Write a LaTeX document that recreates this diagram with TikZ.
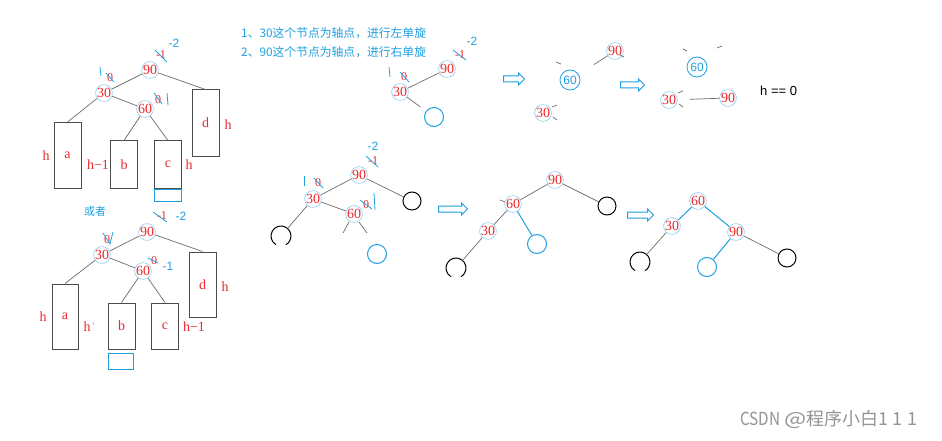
\documentclass[tikz,border=0pt]{standalone}
\usepackage{fontspec}
\setmainfont{Liberation Serif}
\newfontfamily\cjkf{Noto Sans CJK SC}
\newfontfamily\sansf{Liberation Sans}
\usetikzlibrary{shapes.arrows}
\definecolor{cb}{RGB}{30,160,225}
\definecolor{lb}{RGB}{140,205,240}
\definecolor{rd}{RGB}{235,40,45}
\definecolor{eg}{RGB}{110,110,110}
\begin{document}
\begin{tikzpicture}[x=1pt,y=-1pt,
 num/.style={circle,draw=lb,line width=0.6pt,minimum size=16pt,inner sep=0pt,text=rd,font=\fontsize{14}{14}\selectfont},
 bnum/.style={circle,draw=cb,line width=0.8pt,minimum size=20pt,inner sep=0pt,text=cb,font=\sansf\fontsize{12}{12}\selectfont},
 box/.style={draw=black!70,line width=1pt,minimum width=27pt,inner sep=0pt,text=rd,font=\fontsize{14}{14}\selectfont},
 lab/.style={text=rd,font=\fontsize{14}{14}\selectfont,inner sep=0pt},
 ann/.style={text=rd,font=\fontsize{12}{12}\selectfont,inner sep=0pt},
 bann/.style={text=cb,font=\sansf\fontsize{12}{12}\selectfont,inner sep=0pt},
 stroke/.style={draw=cb,line width=0.8pt},
 edge/.style={draw=eg,line width=0.7pt},
 bedge/.style={draw=cb,line width=1pt},
 blk/.style={circle,draw=black,line width=1pt,minimum size=18pt,inner sep=0pt},
 openc/.style={circle,minimum size=20pt,inner sep=0pt,outer sep=0pt},
 bc/.style={circle,draw=cb,line width=1pt,minimum size=19pt,inner sep=0pt},
 barrow/.style={single arrow,draw=cb,line width=1pt,single arrow head extend=3pt,inner sep=2.5pt,minimum width=0pt},
]
\fill[white] (0,0) rectangle (942,441);
\useasboundingbox (0,0) rectangle (942,441);

% ---------- top text ----------
\node[anchor=west,text=cb,font=\cjkf\fontsize{11.8}{11.8}\selectfont,inner sep=0pt] (t1) at (241,33) {1、30这个节点为轴点，进行左单旋};
\node[anchor=west,text=cb,font=\cjkf\fontsize{11.8}{11.8}\selectfont,inner sep=0pt] (t2) at (241,52) {2、90这个节点为轴点，进行右单旋};

% ---------- upper-left tree ----------
\node[num] (a90) at (150,70) {90};
\node[num] (a30) at (104,93) {30};
\node[num] (a60) at (145,109) {60};
\node[box,minimum height=66pt] (aa) at (67.5,155.5) {a};
\node[box,minimum height=47pt] (ab) at (124,164.5) {b};
\node[box,minimum height=47pt] (ac) at (168,164.5) {c};
\node[box,minimum height=66pt] (ad) at (205.5,123) {d};
\node[draw=cb,line width=1pt,minimum width=27pt,minimum height=12pt,inner sep=0pt] (acx) at (168,195) {};
\draw[edge] (a90) -- (a30);
\draw[edge] (a90) -- (ad.north);
\draw[edge] (a30) -- (aa.north);
\draw[edge] (a30) -- (a60);
\draw[edge] (a60) -- (ab.north);
\draw[edge] (a60) -- (ac.north);
\node[lab] (ah1) at (46,156) {h};
\node[lab] (ah2) at (98,165) {h−1};
\node[lab] (ah3) at (189,165) {h};
\node[lab] (ah4) at (228,125) {h};
\node[ann] (an1) at (161,55) {-1};
\draw[stroke] (155,50) -- (167,62);
\node[bann] (an2) at (174,43) {-2};
\node[ann] (an3) at (110,78) {0};
\draw[stroke] (106,73) -- (114,82);
\draw[stroke] (100,67) -- (101,76);
\node[ann] (an4) at (158,100) {0};
\draw[stroke] (154,93) -- (162,104);
\draw[stroke] (167,93) -- (168,105);
\node[text=cb,font=\cjkf\fontsize{11}{11}\selectfont,inner sep=0pt] (huo) at (95,211) {或者};

% ---------- lower-left tree ----------
\node[num] (b90) at (147,232) {90};
\node[num] (b30) at (102,255) {30};
\node[num] (b60) at (143,271) {60};
\node[box,minimum width=26pt,minimum height=65pt] (ba) at (65,316.5) {a};
\node[box,minimum height=46pt] (bb) at (121.5,326) {b};
\node[box,minimum height=46pt] (bcc) at (165,326) {c};
\node[box,minimum height=65pt] (bd) at (202.5,284.5) {d};
\node[draw=cb,line width=1pt,minimum width=25pt,minimum height=16pt,inner sep=0pt] (bbx) at (120.5,361) {};
\draw[edge] (b90) -- (b30);
\draw[edge] (b90) -- (bd.north);
\draw[edge] (b30) -- (ba.north);
\draw[edge] (b30) -- (b60);
\draw[edge] (b60) -- (bb.north);
\draw[edge] (b60) -- (bcc.north);
\node[lab] (bh1) at (43,317) {h};
\node[lab] (bh2) at (87,327) {h};
\draw[stroke,draw=cb!50] (93,322) -- (94,325);
\node[lab] (bh3) at (194,327) {h−1};
\node[lab] (bh4) at (225,287) {h};
\node[ann] (bn1) at (162,216) {-1};
\draw[stroke] (153,212) -- (167,222);
\node[bann] (bn2) at (181,216) {-2};
\node[ann] (bn3) at (107,240) {0};
\draw[stroke] (103,233) -- (110,244) -- (113,232);
\node[ann] (bn4) at (154,261) {0};
\draw[stroke] (148,258) -- (158,263);
\node[bann] (bn5) at (168,266) {-1};

% ---------- top-middle: step 0 ----------
\node[num] (c90) at (447,69) {90};
\node[num] (c30) at (400,92) {30};
\node[bc] (cbl) at (434,117) {};
\draw[edge] (c90) -- (c30);
\draw[edge,shorten >=7pt] (c30) -- (cbl);
\node[ann] (cn1) at (460,55) {-1};
\draw[stroke] (453,50) -- (466,60);
\node[bann] (cn2) at (472,41) {-2};
\node[ann] (cn3) at (404,77) {0};
\draw[stroke] (400,72) -- (409,82);
\draw[stroke] (389,67) -- (390,77);

\node[barrow,minimum height=21pt] (ar1) at (512.5,79) {};

% step 1
\node[num] (d90) at (615,51) {90};
\node[bnum] (d60) at (570,80) {60};
\node[num] (d30) at (543,113) {30};
\draw[edge,shorten >=18pt] (d90) -- (d60);
\draw[edge] (556,62) -- (561,64);
\draw[edge] (620,55) -- (624,57);
\draw[edge] (552,107) -- (557,105);
\draw[edge] (553,117) -- (557,120);

\node[barrow,minimum height=24pt] (ar2) at (631,85) {};

% step 2
\node[bnum] (e60) at (697,67) {60};
\node[num] (e30) at (669,100) {30};
\node[num] (e90) at (728,98) {90};
\draw[edge] (683,49) -- (687,51);
\draw[edge] (717,48) -- (722,46);
\draw[edge] (678,93) -- (683,91);
\draw[edge] (679,104) -- (683,107);
\draw[edge,shorten >=12pt] (e90) -- (e30);
\node[anchor=west,font=\sansf\fontsize{13}{13}\selectfont,inner sep=0pt] (heq) at (760,91) {h == 0};

% ---------- middle row: step 0 ----------
\node[num] (f90) at (359,175) {90};
\node[num] (f30) at (313,199) {30};
\node[num] (f60) at (354,214) {60};
\node[blk] (fr) at (412,201) {};
\node[openc] (fl) at (281,236) {};
\draw[black,line width=1pt] (fl.240) arc[start angle=240,end angle=-60,radius=10pt];
\node[bc] (fb) at (377,254) {};
\draw[edge] (f90) -- (f30);
\draw[edge] (f90) -- (fr);
\draw[edge] (f30) -- (fl);
\draw[edge] (f30) -- (f60);
\draw[edge] (349,222) -- (343,233);
\draw[edge] (359,222) -- (367,233);
\node[bann] (fn1) at (373,146) {-2};
\node[ann] (fn2) at (373,161) {-1};
\draw[stroke] (366,156) -- (378,167);
\node[ann] (fn3) at (318,183) {0};
\draw[stroke] (314,178) -- (323,188);
\draw[stroke] (304,176) -- (304,186);
\node[ann] (fn4) at (366,205) {0};
\draw[stroke] (360,200) -- (372,209);
\draw[stroke] (374,193) -- (375,210);

\node[barrow,minimum height=29pt] (ar3) at (451.5,209) {};

% step 1
\node[num] (g90) at (555,180) {90};
\node[num] (g60) at (513,204) {60};
\node[num] (g30) at (488,231) {30};
\node[blk] (gr) at (607,206) {};
\node[bc] (gb) at (537,244) {};
\node[openc] (gl) at (456,268) {};
\draw[black,line width=1pt] (gl.240) arc[start angle=240,end angle=-60,radius=10pt];
\draw[edge] (g90) -- (g60);
\draw[edge] (g90) -- (gr);
\draw[edge] (g60) -- (g30);
\draw[bedge] (g60) -- (gb);
\draw[edge] (g30) -- (gl);
\draw[edge] (500,200) -- (505,202);

\node[barrow,minimum height=26pt] (ar4) at (639,215) {};

% step 2
\node[num] (h60) at (698,201) {60};
\node[num] (h30) at (672,226) {30};
\node[num] (h90) at (736,232) {90};
\node[openc] (hl) at (640,262) {};
\draw[black,line width=1pt] (hl.240) arc[start angle=240,end angle=-60,radius=10pt];
\node[bc] (hb) at (707,267) {};
\node[blk] (hr) at (787,258) {};
\draw[bedge] (h60) -- (h30);
\draw[bedge] (h60) -- (h90);
\draw[edge] (h30) -- (hl);
\draw[bedge] (h90) -- (hb);
\draw[edge] (h90) -- (hr);

% watermark
\node[anchor=west,text=black!42,inner sep=0pt,font=\cjkf\fontsize{18}{18}\selectfont] (wm) at (740,419) {\scalebox{0.85}[1]{CSDN}\hspace{4pt}\scalebox{1.3}[1]{@}程序小白{\addfontfeature{LetterSpace=25}111}};
\end{tikzpicture}
\end{document}
